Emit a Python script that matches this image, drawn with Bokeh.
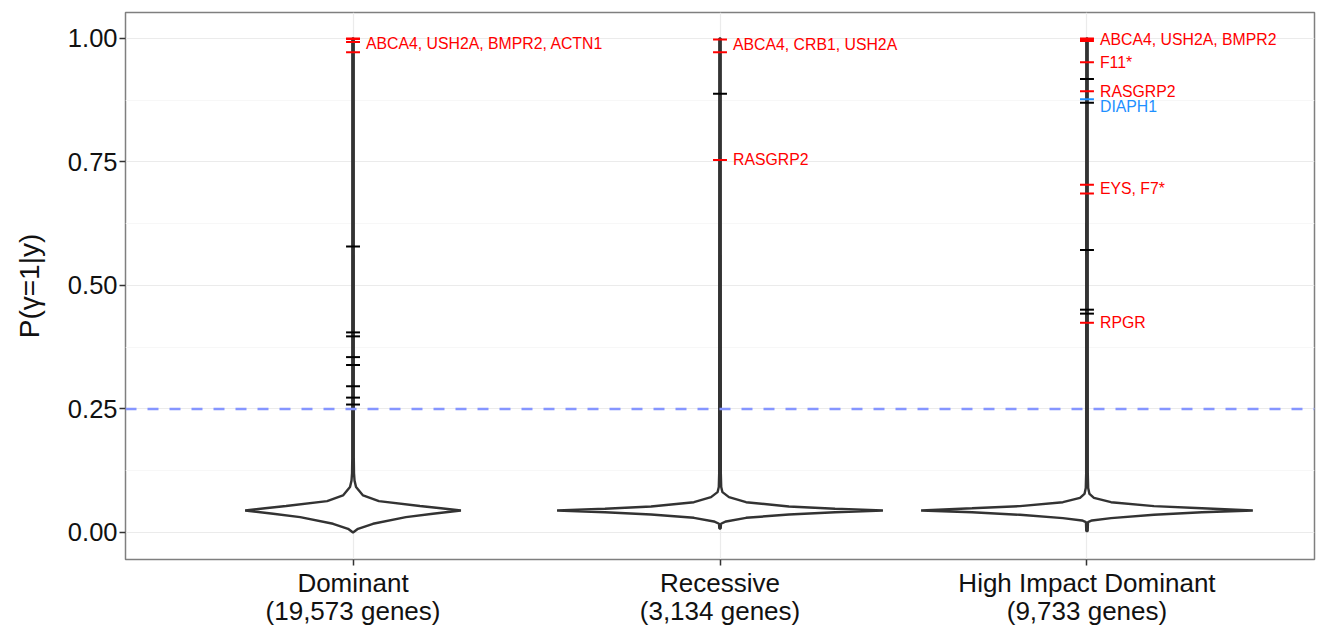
import numpy as np
from bokeh.plotting import figure
from bokeh.models import FixedTicker, Span, ColumnDataSource, Range1d, NumeralTickFormatter
from bokeh.embed import file_html
from bokeh.resources import INLINE
from bokeh.core.properties import value

# ---------------- data ----------------
categories = ["Dominant", "Recessive", "High Impact Dominant"]
gene_counts = ["19,573", "3,134", "9,733"]
y_ticks = [0.0, 0.25, 0.5, 0.75, 1.0]
threshold = 0.25

# violin density profiles (probability level, relative density)
dom_y = [0.0, 0.0075, 0.0176, 0.031, 0.038, 0.0445, 0.049, 0.0536, 0.0634, 0.075, 0.092, 0.105, 0.12, 0.15, 1.0]
dom_d = [0.0, 0.046, 0.185, 0.49, 0.74, 1.0, 0.815, 0.62, 0.24, 0.093, 0.028, 0.014, 0.009, 0.007, 0.0065]
rec_y = [0.008, 0.0176, 0.0223, 0.0297, 0.0364, 0.041, 0.0445, 0.048, 0.0526, 0.0613, 0.0715, 0.0816, 0.092, 0.12, 1.0]
rec_d = [0.0043, 0.006, 0.037, 0.16, 0.423, 0.706, 1.0, 0.706, 0.423, 0.16, 0.055, 0.015, 0.0074, 0.005, 0.0043]
hid_y = [0.0027, 0.021, 0.0243, 0.029, 0.0358, 0.041, 0.0445, 0.049, 0.0533, 0.0613, 0.070, 0.078, 0.09, 0.12, 1.0]
hid_d = [0.0042, 0.006, 0.03, 0.145, 0.404, 0.693, 1.0, 0.693, 0.404, 0.145, 0.042, 0.015, 0.0072, 0.0048, 0.0042]
violin_max_width = [0.294, 0.444, 0.452]

# rug marks of known genes
dom_black = [0.579, 0.405, 0.397, 0.355, 0.339, 0.296, 0.273, 0.259]
dom_red = [1.0, 0.999, 0.993, 0.972]
rec_black = [0.888]
rec_red = [0.998, 0.972, 0.754]
hid_black = [0.918, 0.870, 0.572, 0.451, 0.443]
hid_red = [1.0, 0.999, 0.995, 0.952, 0.893, 0.704, 0.686, 0.4245]
hid_blue = [0.877]

# gene labels: (category index, y, text, colour)
label_cat = [1, 2, 2, 3, 3, 3, 3, 3, 3]
label_y = [0.990, 0.988, 0.755, 0.998, 0.952, 0.893, 0.863, 0.696, 0.425]
label_text = ["ABCA4, USH2A, BMPR2, ACTN1", "ABCA4, CRB1, USH2A", "RASGRP2",
              "ABCA4, USH2A, BMPR2", "F11*", "RASGRP2", "DIAPH1", "EYS, F7*", "RPGR"]
label_color = ["red", "red", "red", "red", "red", "red", "#1E90FF", "red", "red"]

# ---------------- figure ----------------
FONT = "Liberation Sans"
p = figure(width=1317, height=630, output_backend="svg", toolbar_location=None,
           x_range=Range1d(0.38, 3.62), y_range=Range1d(-0.0547, 1.0526),
           min_border_left=125, min_border_right=3, min_border_top=12, min_border_bottom=71)
p.background_fill_color = "white"
p.border_fill_color = "white"
p.outline_line_color = "#7f7f7f"
p.outline_line_width = 1.5

# grids
p.xgrid.ticker = FixedTicker(ticks=[1, 2, 3])
p.ygrid.ticker = FixedTicker(ticks=y_ticks, minor_ticks=[0.125, 0.375, 0.625, 0.875])
p.xgrid.grid_line_color = "#EBEBEB"
p.ygrid.grid_line_color = "#EBEBEB"
p.ygrid.minor_grid_line_color = "#F7F7F7"
p.xgrid.grid_line_width = 1.2
p.ygrid.grid_line_width = 1.2

# axes
p.xaxis.ticker = FixedTicker(ticks=[1, 2, 3])
p.xaxis.major_label_overrides = {i + 1: f"{c}\n({g} genes)" for i, (c, g) in enumerate(zip(categories, gene_counts))}
p.yaxis.ticker = FixedTicker(ticks=y_ticks)
p.yaxis.formatter = NumeralTickFormatter(format="0.00")
for ax in (p.xaxis[0], p.yaxis[0]):
    ax.axis_line_color = None
    ax.major_tick_line_color = "#333333"
    ax.major_tick_line_width = 1.5
    ax.major_tick_out = 6
    ax.major_tick_in = 0
    ax.minor_tick_line_color = None
    ax.major_label_text_font = FONT
    ax.major_label_text_color = "#111111"
    ax.major_label_standoff = 2
p.xaxis.major_label_text_font_size = "26px"
p.xaxis.major_label_text_line_height = 0.95
p.yaxis.major_label_text_font_size = "25.5px"
p.yaxis.axis_label = "P(γ=1|y)"
p.yaxis.axis_label_text_font = FONT
p.yaxis.axis_label_text_font_size = "28px"
p.yaxis.axis_label_text_font_style = "normal"
p.yaxis.axis_label_text_color = "#111111"
p.yaxis.axis_label_standoff = 20

# threshold line
p.add_layout(Span(location=threshold, dimension="width", line_color="#8595ff",
                  line_width=2.5, line_dash="11 11"))

# violins
profiles = [(dom_y, dom_d), (rec_y, rec_d), (hid_y, hid_d)]
for i, (ys, ds) in enumerate(profiles):
    c = i + 1
    w = violin_max_width[i]
    ys = np.array(ys)
    ds = np.array(ds)
    xs = np.concatenate([c + ds * w, (c - ds * w)[::-1]])
    yy = np.concatenate([ys, ys[::-1]])
    p.patch(xs, yy, fill_color="white", line_color="#333333", line_width=2.4)

# rug marks
half = 0.019
rug_sets = [(1, dom_black, "black"), (1, dom_red, "red"),
            (2, rec_black, "black"), (2, rec_red, "red"),
            (3, hid_black, "black"), (3, hid_red, "red"), (3, hid_blue, "#1E90FF")]
for c, vals, col in rug_sets:
    src = ColumnDataSource(dict(x0=[c - half] * len(vals), x1=[c + half] * len(vals), y=vals))
    p.segment(x0="x0", y0="y", x1="x1", y1="y", source=src, line_color=col, line_width=2)

# labels
lsrc = ColumnDataSource(dict(x=label_cat, y=label_y, t=label_text, c=label_color))
p.text(x="x", y="y", text="t", text_color="c", source=lsrc, x_offset=13,
       text_baseline="middle", text_align="left", text_font=value(FONT),
       text_font_size="15.8px")

open("out.html", "w").write(file_html(p, INLINE))
